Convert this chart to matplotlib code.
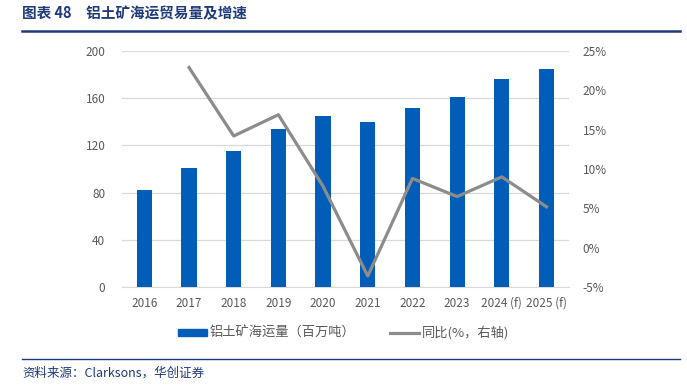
import matplotlib.pyplot as plt
import matplotlib.lines as mlines
import matplotlib.patches as mpatches
import numpy as np

plt.rcParams["font.family"] = ["Noto Sans CJK SC", "DejaVu Sans"]

# Data
years = ["2016", "2017", "2018", "2019", "2020", "2021", "2022", "2023", "2024 (f)", "2025 (f)"]
volume = [82, 101, 115, 134, 145, 140, 152, 161, 176, 185]  # million tonnes
yoy = [np.nan, 22.9, 14.2, 16.9, 7.8, -3.6, 8.8, 6.5, 9.0, 5.2]  # %

bar_color = "#005EB8"
line_color = "#8C8C8C"
text_color = "#595959"
navy = "#1F3A7A"

fig = plt.figure(figsize=(6.87, 3.85), dpi=100)
ax = fig.add_axes([0.1776, 0.2545, 0.6504, 0.613])
ax2 = ax.twinx()

x = np.arange(len(years))
ax.bar(x, volume, width=0.34, color=bar_color, zorder=3)
ax2.plot(x, yoy, color=line_color, lw=2.3, zorder=4)

ax.set_ylim(0, 200)
ax.set_yticks(np.arange(0, 201, 40))
ax2.set_ylim(-5, 25)
ax2.set_yticks(np.arange(-5, 26, 5))
ax2.set_yticklabels([f"{v}%" for v in range(-5, 26, 5)])
ax.set_xlim(-0.5, len(years) - 0.5)
ax.set_xticks(x)
ax.set_xticklabels(years)

ax.grid(axis="y", color="#D9D9D9", lw=0.9, zorder=0)
for a in (ax, ax2):
    for s in a.spines.values():
        s.set_visible(False)
    a.tick_params(length=0, labelsize=8.5, colors=text_color)
ax.spines["bottom"].set_visible(True)
ax.spines["bottom"].set_color("#D9D9D9")
ax.tick_params(axis="y", pad=12)
ax2.tick_params(axis="y", pad=10)
ax.tick_params(axis="x", pad=7)

# Legend
h1 = mpatches.Patch(color=bar_color)
h2 = mlines.Line2D([], [], color=line_color, lw=2.3)
fig.legend([h1, h2], ["铝土矿海运量（百万吨）", "同比(%，右轴)"],
           loc="center", bbox_to_anchor=(0.5, 0.135), ncol=2, frameon=False,
           fontsize=9.5, labelcolor=text_color, handlelength=2.2,
           handleheight=0.5, columnspacing=2.6, handletextpad=0.2)

# Title and source
fig.text(0.032, 0.965, "图表 48　铝土矿海运贸易量及增速", fontsize=10.5,
         fontweight="bold", color=navy, va="center")
fig.add_artist(mlines.Line2D([0.032, 0.99], [0.92, 0.92], color=navy, lw=1.8))
fig.add_artist(mlines.Line2D([0.032, 0.99], [0.068, 0.068], color=navy, lw=1.0))
fig.text(0.032, 0.03, "资料来源：Clarksons，华创证券", fontsize=9,
         style="italic", color=navy, va="center")

fig.savefig("out.png", dpi=100)
